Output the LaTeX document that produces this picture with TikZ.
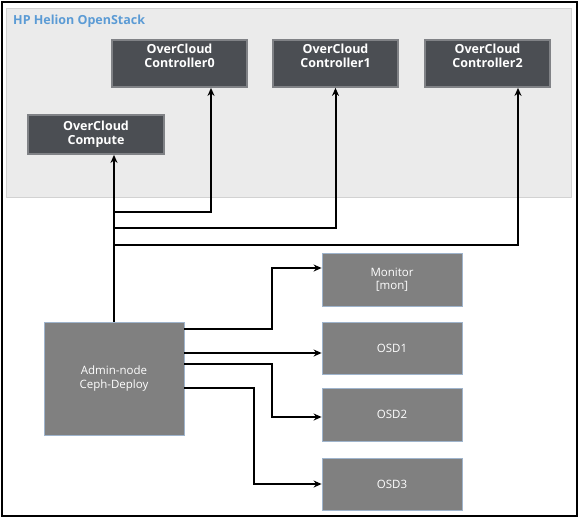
\documentclass[tikz,border=0pt]{standalone}
\usepackage{fontspec}
\setmainfont{Open Sans}
\usetikzlibrary{arrows.meta,calc}
\definecolor{panelfill}{HTML}{EBEBEB}
\definecolor{paneldraw}{HTML}{D2D2D2}
\definecolor{darkbox}{HTML}{4B4E53}
\definecolor{darkedge}{HTML}{808286}
\definecolor{midbox}{HTML}{808080}
\definecolor{midedge}{HTML}{9FB4CC}
\definecolor{titleblue}{HTML}{5B9BD5}
\tikzset{
  cloudbox/.style={rectangle, fill=darkbox, draw=darkedge, line width=1.8pt, text=white,
    font=\fontsize{12.5}{14}\selectfont\bfseries, align=center, inner sep=0pt},
  toptext/.style={text depth=15pt},
  cephbox/.style={rectangle, fill=midbox, draw=midedge, line width=0.8pt, text=white,
    font=\fontsize{11.5}{13.5}\selectfont, align=center, inner sep=0pt},
  link/.style={line width=2pt, draw=black},
  arrowlink/.style={link, -{Stealth[length=8pt,width=7pt]}}
}
\begin{document}
\begin{tikzpicture}[x=1pt,y=-1pt]
\useasboundingbox (0,0) rectangle (579,520);
\fill[white] (0,0) rectangle (579,520);
\draw[line width=1.5pt] (2,2) rectangle (577,516);
% panel
\node[fill=panelfill, draw=paneldraw, line width=1pt, minimum width=565pt, minimum height=189pt, inner sep=0pt] (panel) at (288.5,102.5) {};
\node[anchor=base west, text=titleblue, font=\fontsize{12.5}{14}\selectfont\bfseries, inner sep=0pt] (title) at (13,24) {HP Helion OpenStack};
% cloud nodes
\node[cloudbox, toptext, minimum width=135pt, minimum height=47pt] (c0) at (179.5,63.5) {OverCloud\\Controller0};
\node[cloudbox, toptext, minimum width=125pt, minimum height=47pt] (c1) at (335.5,63.5) {OverCloud\\Controller1};
\node[cloudbox, toptext, minimum width=125pt, minimum height=47pt] (c2) at (487.5,63.5) {OverCloud\\Controller2};
\node[cloudbox, minimum width=136pt, minimum height=39pt] (cmp) at (96,134.5) {OverCloud\\Compute};
% ceph nodes
\node[cephbox, minimum width=140pt, minimum height=113pt] (adm) at (114,378.5) {Admin-node\\Ceph-Deploy};
\node[cephbox, minimum width=140pt, minimum height=53pt] (mon) at (392,279.5) {Monitor\\{[mon]}};
\node[cephbox, minimum width=140pt, minimum height=52pt] (osd1) at (392,348) {OSD1};
\node[cephbox, minimum width=140pt, minimum height=53pt] (osd2) at (392,414.5) {OSD2};
\node[cephbox, minimum width=140pt, minimum height=52pt] (osd3) at (392,484) {OSD3};
% trunk junctions
\coordinate (j0) at (114,212);
\coordinate (j1) at (114,228);
\coordinate (j2) at (114,245);
\draw[arrowlink] (adm.north) -- (adm.north |- cmp.south);
\draw[arrowlink] (j0) -| ([xshift=31.5pt]c0.south);
\draw[arrowlink] (j1) -| (c1.south);
\draw[arrowlink] (j2) -| ([xshift=30.5pt]c2.south);
% storage links
\coordinate (a0) at ([yshift=49.5pt]adm.east);
\coordinate (a1) at ([yshift=25.5pt]adm.east);
\coordinate (a2) at ([yshift=14.5pt]adm.east);
\coordinate (a3) at ([yshift=-9.5pt]adm.east);
\draw[arrowlink] (a0) -| ([xshift=-50pt,yshift=11.5pt]mon.west) -- ([yshift=11.5pt]mon.west);
\draw[arrowlink] (a1) -- (a1 -| osd1.west);
\draw[arrowlink] (a2) -| ([xshift=-50pt,yshift=-2.5pt]osd2.west) -- ([yshift=-2.5pt]osd2.west);
\draw[arrowlink] (a3) -| ([xshift=-68pt]osd3.west) -- (osd3.west);
\end{tikzpicture}
\end{document}
